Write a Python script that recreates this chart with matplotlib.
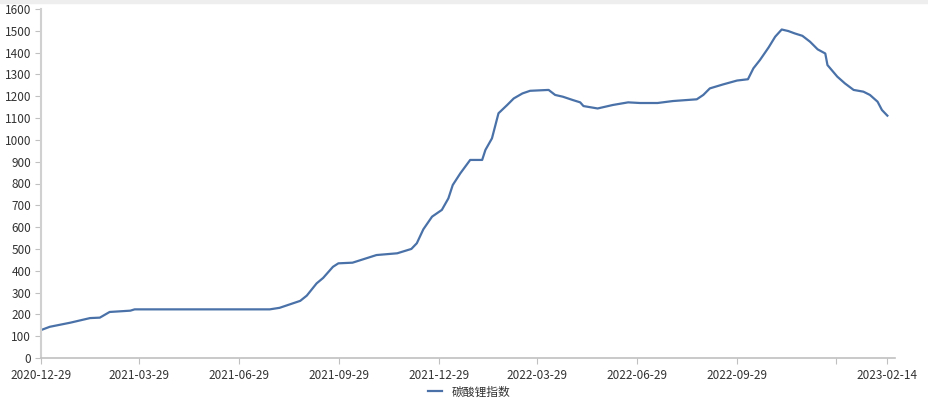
import matplotlib
matplotlib.use('Agg')
import matplotlib.pyplot as plt
import matplotlib.dates as mdates
import pandas as pd

plt.rcParams['font.family'] = ['Noto Sans CJK SC', 'DejaVu Sans']

# 碳酸锂指数, values
dates = ['2020-12-29', '2021-01-06', '2021-01-25', '2021-02-12', '2021-02-21', '2021-03-02',
         '2021-03-21', '2021-03-25', '2021-07-27', '2021-08-05', '2021-08-24', '2021-08-30',
         '2021-09-08', '2021-09-14', '2021-09-23', '2021-09-28', '2021-10-11', '2021-11-02',
         '2021-11-21', '2021-12-04', '2021-12-09', '2021-12-15', '2021-12-23', '2022-01-01',
         '2022-01-07', '2022-01-11', '2022-01-18', '2022-01-27', '2022-02-07', '2022-02-10',
         '2022-02-16', '2022-02-22', '2022-03-02', '2022-03-08', '2022-03-16', '2022-03-23',
         '2022-04-09', '2022-04-15', '2022-04-22', '2022-05-01', '2022-05-08', '2022-05-11',
         '2022-05-24', '2022-06-07', '2022-06-21', '2022-07-02', '2022-07-18', '2022-08-01',
         '2022-08-23', '2022-08-29', '2022-09-04', '2022-09-16', '2022-09-29', '2022-10-09',
         '2022-10-14', '2022-10-20', '2022-10-28', '2022-11-03', '2022-11-09', '2022-11-15',
         '2022-11-21', '2022-11-28', '2022-12-05', '2022-12-12', '2022-12-19', '2022-12-21',
         '2022-12-30', '2023-01-06', '2023-01-14', '2023-01-23', '2023-01-29', '2023-02-05',
         '2023-02-09', '2023-02-14']
values = [128, 143, 162, 183, 185, 211,
          217, 223, 223, 230, 262, 286,
          342, 367, 418, 434, 437, 472,
          480, 500, 526, 590, 648, 679,
          732, 793, 847, 908, 908, 954,
          1007, 1122, 1160, 1190, 1213, 1225,
          1229, 1206, 1198, 1183, 1172, 1155,
          1144, 1160, 1172, 1169, 1169, 1178,
          1186, 1206, 1236, 1254, 1272, 1278,
          1328, 1366, 1424, 1473, 1506, 1499,
          1488, 1477, 1450, 1415, 1396, 1343,
          1290, 1259, 1229, 1221, 1206, 1175,
          1137, 1111]

tick_dates = ['2020-12-29', '2021-03-29', '2021-06-29', '2021-09-29', '2021-12-29',
              '2022-03-29', '2022-06-29', '2022-09-29', '2022-12-29', '2023-02-14']
tick_labels = ['2020-12-29', '2021-03-29', '2021-06-29', '2021-09-29', '2021-12-29',
               '2022-03-29', '2022-06-29', '2022-09-29', '', '2023-02-14']

x = pd.to_datetime(dates)

fig = plt.figure(figsize=(9.29, 4.05), dpi=100)
ax = fig.add_axes([41/929, 47/405, 854/929, 349/405])

ax.plot(x, values, color='#4a72a8', lw=1.6, label='碳酸锂指数')

ax.set_ylim(0, 1600)
ax.set_yticks(range(0, 1601, 100))
ax.set_xlim(pd.Timestamp('2020-12-29'), pd.Timestamp('2023-02-21'))
ax.set_xticks(pd.to_datetime(tick_dates))
ax.set_xticklabels(tick_labels)

for s in ['top', 'right']:
    ax.spines[s].set_visible(False)
ax.spines['left'].set_color('#d0d0d0')
ax.spines['left'].set_linewidth(1.5)
ax.spines['bottom'].set_color('#c0c0c0')
ax.spines['bottom'].set_linewidth(1.2)
ax.tick_params(axis='both', colors='#c0c0c0', labelcolor='#333333', labelsize=8.5, length=4)
ax.tick_params(axis='x', pad=4)
ax.tick_params(axis='y', pad=3)

fig.legend(loc='lower center', bbox_to_anchor=(0.505, -0.01), frameon=False,
           fontsize=8.5, handlelength=1.2, labelcolor='#333333')

# light grey strip at the top of the image
fig.patches.append(plt.Rectangle((0, 1 - 3/405), 1, 3/405, transform=fig.transFigure,
                                 color='#eeeeee', zorder=0))

fig.savefig('out.png', dpi=100)
